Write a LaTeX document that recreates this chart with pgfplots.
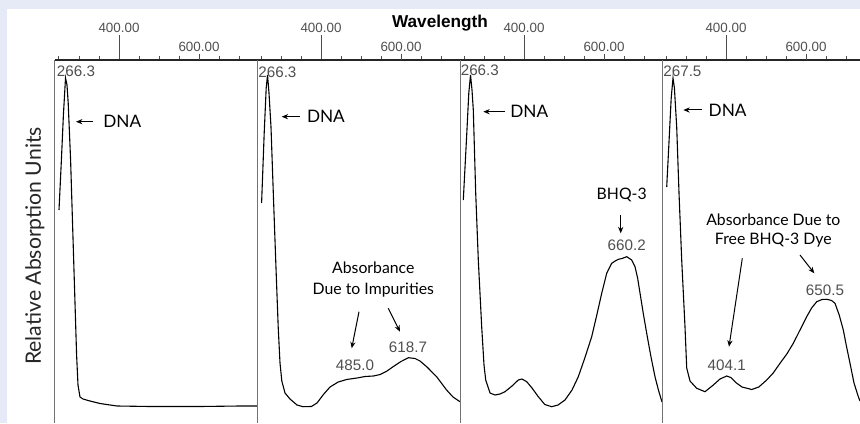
\documentclass[border=0pt]{standalone}
\usepackage{fontspec}
\setmainfont{Liberation Sans}
\newfontfamily\annfont{Lato}
\usepackage{pgfplots}
\pgfplotsset{compat=1.18}
\usetikzlibrary{arrows.meta}
\definecolor{bgblue}{RGB}{230,234,246}
\definecolor{lblgray}{RGB}{80,80,80}

\pgfplotsset{
  panel/.style={
    scale only axis, height=181.5pt, anchor=south west,
    xmin=240, ymin=0, ymax=363,
    axis x line=top, axis y line=left,
    axis line style={-},
    x axis line style={black!85, line width=0.9pt},
    y axis line style={black!55, line width=0.5pt},
    ytick=\empty,
    xtick={400}, xticklabels={},
    extra x ticks={600}, extra x tick labels={},
    extra x tick style={major tick length=3pt},
    minor xtick={250,300,350,450,500,550,650,700},
    major tick length=12.5pt, minor tick length=2pt,
    xtick align=outside,
    tick style={black!70, line width=0.5pt},
    clip=false,
  },
  curve/.style={black, line width=0.55pt},
}
\tikzset{
  peak/.style={lblgray, inner sep=0pt, font=\fontsize{7.6}{8}\selectfont},
  ticklbl/.style={lblgray, inner sep=0pt, font=\fontsize{6.7}{7}\selectfont},
  ann/.style={black, inner sep=0pt, font=\annfont\fontsize{8.6}{9}\selectfont},
  anns/.style={black, inner sep=0pt, align=center, font=\annfont\fontsize{7.9}{10}\selectfont},
  annarrow/.style={black, line width=0.5pt, -{Stealth[length=3.2pt,width=2.6pt]}},
}

\begin{document}
\begin{tikzpicture}
\useasboundingbox (0,0) rectangle (430pt,211.5pt);
\fill[bgblue] (0,0) rectangle (430pt,211.5pt);
\fill[white] (3.5pt,0) rectangle (430pt,207pt);

% panel 1: DNA only
\begin{axis}[panel, at={(27.5pt,0pt)}, width=101pt, xmax=745]
\addplot[curve] coordinates {
(250,213) (256,263) (261,308) (266.3,345) (270,338) (273,320) (279,263)
(284,198) (289,133) (294,68) (297.5,38) (302.5,26) (310,24) (327.5,22)
(352.5,19.5) (395,17) (477.5,16.5) (602.5,16.5) (702.5,17) (745,17)};
\node[peak, anchor=west] at (axis cs:244,351.3) {266.3};
\node[ann, anchor=west] at (axis cs:360,301.3) {DNA};
\draw[annarrow] (axis cs:335.75,301.3) -- (axis cs:292.5,301.3);
\node[ticklbl] at (axis cs:400,395) {400.00};
\node[ticklbl] at (axis cs:600,376) {600.00};
\end{axis}

% panel 2: impurities
\begin{axis}[panel, at={(128.5pt,0pt)}, width=101.5pt, xmax=747.5]
\addplot[curve] coordinates {
(251.5,220) (258,290) (263,335) (266.3,348) (270,330) (275,296) (280.75,230)
(286.75,163) (293,96) (297.5,60) (302,42) (310,30) (322.5,24) (340,18)
(355,16.3) (376,16.5) (390,20) (405,28) (422.5,36) (443,41) (464,43.5)
(490,45) (510,46.5) (531,47) (548,48.5) (565,52) (581,56.5) (600,61.5)
(618.7,65.3) (635,64.5) (647.5,62) (665,56) (689,46.3) (714,33) (730,26)
(747.5,21.3)};
\node[peak, anchor=west] at (axis cs:242.5,351) {266.3};
\node[ann, anchor=west] at (axis cs:364,306.3) {DNA};
\draw[annarrow] (axis cs:347.5,306.3) -- (axis cs:301.75,306.3);
\node[anns] at (axis cs:530.75,155) {Absorbance};
\node[anns] at (axis cs:530.75,133) {Due to Impurities};
\draw[annarrow] (axis cs:495,111.3) -- (axis cs:476.75,74.7);
\draw[annarrow] (axis cs:568.25,114.7) -- (axis cs:597.5,91.3);
\node[peak] at (axis cs:485,58) {485.0};
\node[peak] at (axis cs:617.5,76) {618.7};
\node[ticklbl] at (axis cs:400,395) {400.00};
\node[ticklbl] at (axis cs:600,376) {600.00};
\end{axis}

% panel 3: BHQ-3 conjugate
\begin{axis}[panel, at={(230pt,0pt)}, width=101pt, xmax=745]
\addplot[curve] coordinates {
(248.25,223) (257,290) (262,330) (266.3,348) (270,333) (273.25,313)
(279.25,230) (285.75,163) (294.25,96) (300,58) (304.25,43) (315,30)
(327.5,28) (340,29) (352.5,31.3) (370,37) (385.75,43) (395,44) (406.75,41.3)
(420,35) (435.75,26.3) (452,18.5) (469.25,16.3) (485,18) (502.5,23) (520,33)
(535.75,46.3) (552,65) (569.25,86.3) (582,108) (594.25,129.7) (607,150)
(619.25,159.7) (628,162) (635.75,163.7) (645,164.5) (656.75,166.3)
(669.25,163) (677.5,156.3) (684,145) (690,130) (698,110) (706.75,89.7)
(717,67) (727.5,46.3) (736,33) (745,21)};
\node[peak, anchor=west] at (axis cs:241,353) {266.3};
\node[ann, anchor=west] at (axis cs:365,311.3) {DNA};
\draw[annarrow] (axis cs:352.5,311.3) -- (axis cs:298.25,311.3);
\node[anns] at (axis cs:644.25,228) {BHQ-3};
\draw[annarrow] (axis cs:641.75,208) -- (axis cs:641.75,189.7);
\node[peak] at (axis cs:656.75,178) {660.2};
\node[ticklbl] at (axis cs:400,395) {400.00};
\node[ticklbl] at (axis cs:600,376) {600.00};
\end{axis}

% panel 4: free dye
\begin{axis}[panel, at={(331pt,0pt)}, width=99pt, xmax=735]
\addplot[curve] coordinates {
(251.75,236) (258,285) (263,325) (267.5,345) (271,335) (276.75,296)
(282.5,230) (289.25,163) (297.5,96) (301.75,55) (310,42) (326.75,34.7)
(347.5,31.3) (368.25,38) (385,44) (401.75,47) (412,45.5) (426,40) (440,36)
(464.25,33.5) (482,36) (501.75,43) (518,50) (535,59.7) (552,69)
(568.25,79.7) (585,93) (601.75,106.3) (614,115) (626.75,121.3) (640,123.5)
(651.75,123.7) (664,122.5) (672.5,119.7) (683,108) (693.25,93) (701,77)
(710,59.7) (720,40) (730.75,26.3) (735,22)};
\node[peak, anchor=west] at (axis cs:242.5,351.3) {267.5};
\node[ann, anchor=west] at (axis cs:355.75,313) {DNA};
\draw[annarrow] (axis cs:339.25,313) -- (axis cs:293.25,313);
\node[anns] at (axis cs:518.25,203) {Absorbance Due to};
\node[anns] at (axis cs:518.25,183) {Free BHQ-3 Dye};
\draw[annarrow] (axis cs:440.75,164.7) -- (axis cs:407.5,76.3);
\draw[annarrow] (axis cs:585,168) -- (axis cs:620.75,149.7);
\node[peak] at (axis cs:401.75,58) {404.1};
\node[peak] at (axis cs:647.5,133) {650.5};
\node[ticklbl] at (axis cs:400,395) {400.00};
\node[ticklbl] at (axis cs:600,376) {600.00};
\end{axis}

\node[font=\bfseries\fontsize{8.6}{9}\selectfont, inner sep=0pt] at (220pt,200pt) {Wavelength};
\node[rotate=90, black!85, inner sep=0pt, font=\annfont\fontsize{10.6}{11}\selectfont] at (17.5pt,88.5pt) {Relative Absorption Units};
\end{tikzpicture}
\end{document}
